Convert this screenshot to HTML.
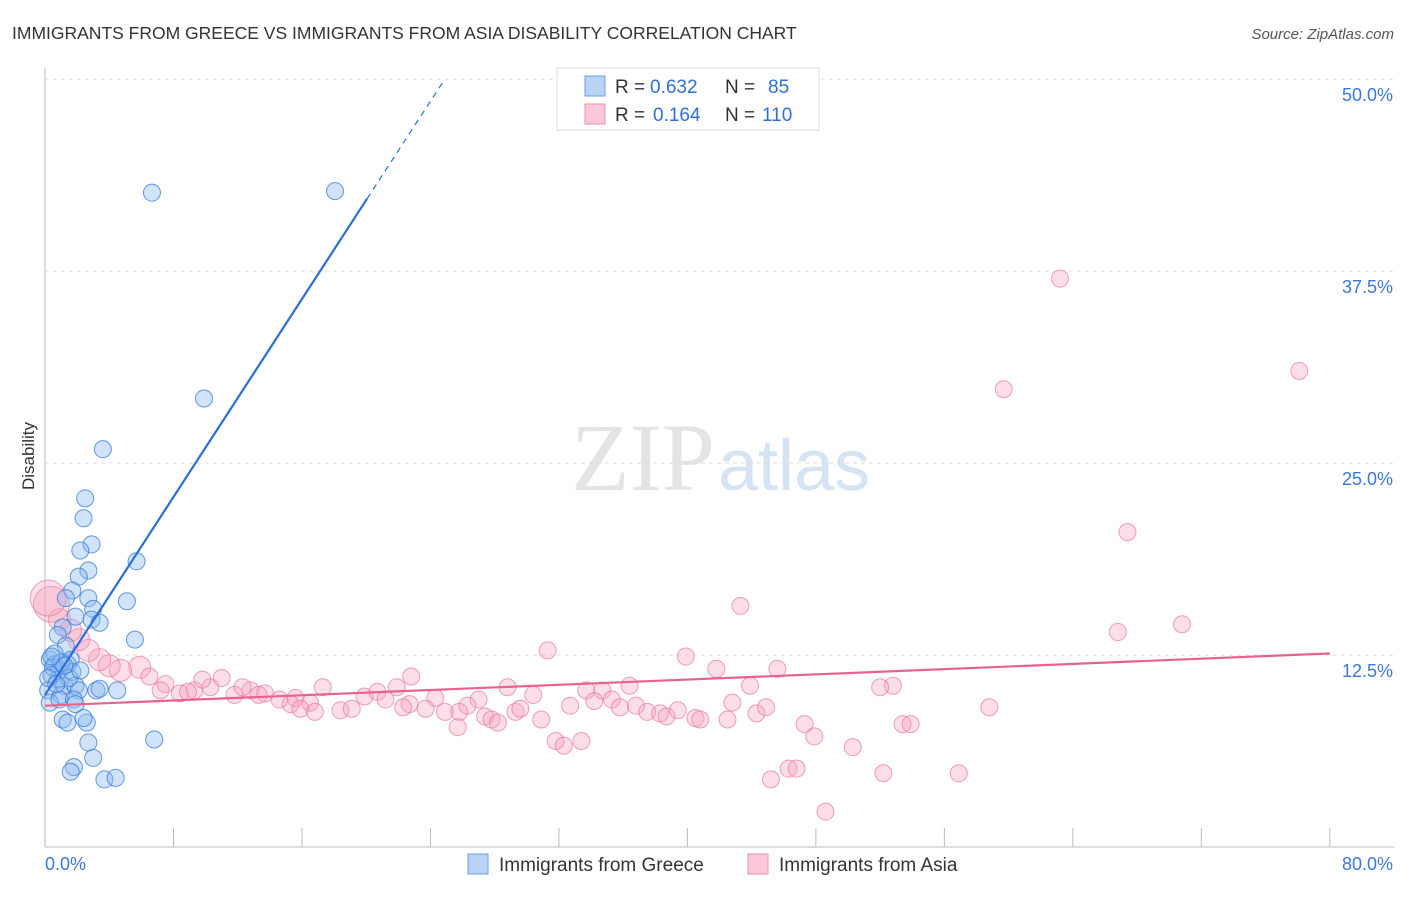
<!DOCTYPE html>
<html><head><meta charset="utf-8"><style>
body{margin:0;background:#fff;font-family:"Liberation Sans",sans-serif}
</style></head><body>
<svg id="c" width="1406" height="892" xmlns="http://www.w3.org/2000/svg">
<text x="12" y="39" font-size="17.5" fill="#333">IMMIGRANTS FROM GREECE VS IMMIGRANTS FROM ASIA DISABILITY CORRELATION CHART</text>
<text x="1394" y="39" font-size="15" fill="#555" font-style="italic" text-anchor="end">Source: ZipAtlas.com</text>
<text x="715" y="490" font-size="96" fill="#e4e4e4" font-family="Liberation Serif" text-anchor="end">ZIP</text>
<text x="718" y="490" font-size="72" fill="#d6e3f3">atlas</text>
<text transform="translate(34,456) rotate(-90)" font-size="17" fill="#333" text-anchor="middle">Disability</text>
<g id="grid"></g><g id="pts"></g><g id="lines"></g>
<g>
<rect x="557" y="68" width="262" height="62" fill="#fff" stroke="#ddd"/>
<rect x="585" y="76" width="20" height="20" fill="#b8d3f5" stroke="#6a9fe0"/>
<rect x="585" y="104" width="20" height="20" fill="#fac8d8" stroke="#ee8fae"/>
<g font-size="19" fill="#333">
<text x="615" y="93">R =</text>
<text x="650" y="93" fill="#2f6fd6">0.632</text>
<text x="725" y="93">N =</text>
<text x="768" y="93" fill="#2f6fd6">85</text>
<text x="615" y="121">R =</text>
<text x="653" y="121" fill="#2f6fd6">0.164</text>
<text x="725" y="121">N =</text>
<text x="762" y="121" fill="#2f6fd6">110</text>
</g>
</g>
<g>
<rect x="468" y="854" width="20" height="20" fill="#b8d3f5" stroke="#6a9fe0"/>
<text x="499" y="871" font-size="19" fill="#333">Immigrants from Greece</text>
<rect x="748" y="854" width="20" height="20" fill="#fac8d8" stroke="#ee8fae"/>
<text x="779" y="871" font-size="19" fill="#333">Immigrants from Asia</text>
</g>
</svg>
<script>
const yTicks=[12.5,25,37.5,50];
const yTickLabels=["12.5%","25.0%","37.5%","50.0%"];
const xTicks=[8,16,24,32,40,48,56,64,72,80];
const greeceX=[6.66,18.06,9.9,3.6,2.5,2.4,2.9,2.2,5.7,2.7,2.1,1.7,1.3,2.7,5.1,3.0,1.9,2.9,3.4,1.1,0.8,5.6,1.3,0.3,0.6,0.9,0.4,0.8,1.2,1.6,1.7,0.2,1.0,1.9,1.4,0.6,0.3,0.9,2.1,1.8,3.2,4.5,3.4,1.9,1.1,1.4,2.6,2.4,2.7,6.8,3.0,1.8,1.6,3.7,4.4,0.5,1.0,1.5,0.2,0.7,1.2,0.4,2.2];
const greeceY=[42.6,42.7,29.2,25.9,22.7,21.4,19.7,19.3,18.6,18.0,17.6,16.7,16.2,16.2,16.0,15.5,15.0,14.8,14.6,14.3,13.8,13.5,13.1,12.2,11.9,11.5,11.2,10.9,10.5,12.2,11.4,10.2,9.9,10.5,11.9,12.6,9.4,9.6,10.2,9.6,10.2,10.2,10.3,9.3,8.3,8.1,8.1,8.4,6.8,7.0,5.8,5.2,4.9,4.4,4.5,11.7,12.0,11.0,11.0,10.6,11.8,12.4,11.5];
const asiaX=[63.2,78.1,59.7,67.4,43.3,70.8,66.8,31.3,39.9,41.8,45.6,22.8,36.4,43.9,52.8,52,28.8,30.4,33.7,34.7,21.9,17.3,19.9,20.7,21.2,24.3,27.0,22.7,22.3,23.7,24.9,25.8,26.3,27.4,27.8,28.2,29.3,29.6,30.9,32.7,34.2,35.3,35.8,36.8,37.5,38.3,38.7,39.4,40.5,40.8,42.5,42.8,44.3,44.9,47.3,47.9,50.3,53.4,53.9,58.8,31.8,32.3,33.4,25.7,45.2,46.3,46.8,52.2,56.9,48.6,5.9,6.5,7.5,8.4,9.3,10.3,11.0,11.8,12.8,13.7,14.6,15.6,16.5,7.2,8.9,9.8,12.3,13.3,15.3,15.9,16.8,18.4,19.1,4.7,4.0,3.4,2.7,2.1,1.6,0.9,0.4,0.2];
const asiaY=[37.0,31.0,29.8,20.5,15.7,14.5,14.0,12.8,12.4,11.6,11.6,11.1,10.5,10.5,10.5,10.4,10.4,9.9,10.2,10.2,10.4,10.4,9.8,10.1,9.6,9.7,9.6,9.3,9.1,9.0,8.8,8.8,9.2,8.5,8.3,8.1,8.8,9.0,8.3,9.2,9.5,9.6,9.1,9.2,8.8,8.7,8.5,8.9,8.4,8.3,8.3,9.4,8.7,9.1,8.0,7.2,6.5,8.0,8.0,9.1,6.9,6.6,6.9,7.8,4.4,5.1,5.1,4.8,4.8,2.3,11.7,11.1,10.6,10.0,10.2,10.4,11.0,9.9,10.2,10.0,9.6,9.7,9.4,10.2,10.1,10.9,10.4,9.9,9.3,9.0,8.8,8.9,9.0,11.5,11.8,12.2,12.8,13.5,14.1,14.8,15.8,16.2];
const greeceTrend=[[0,9.9],[20.05,42.2],[24.9,50]];
const asiaTrend=[[0,9.2],[80,12.6]];
const X=v=>45+v*16.06, Y=v=>847-v*15.36;
const NS="http://www.w3.org/2000/svg";
function mk(parent,tag,attrs){const e=document.createElementNS(NS,tag);for(const k in attrs)e.setAttribute(k,attrs[k]);document.getElementById(parent).appendChild(e);return e;}
let a=mk('grid','line',{x1:45,y1:68,x2:45,y2:847,stroke:'#bbb'});


a=mk('grid','line',{x1:45,y1:847,x2:1394,y2:847,stroke:'#bbb'});


yTicks.forEach((t,i)=>{
 const g=mk('grid','line',{x1:45,y1:Y(t),x2:1394,y2:Y(t),stroke:'#ddd','stroke-dasharray':'4,4'});
 
 
 const tx=mk('grid','text',{x:1393,y:Y(t)+22,'font-size':18,fill:'#3b78d8','text-anchor':'end'});
 tx.textContent=yTickLabels[i];
 
 
});
xTicks.forEach(t=>{const l=mk('grid','line',{x1:X(t),y1:828,x2:X(t),y2:847,stroke:'#bbb'});
 
 });
let t0=mk('grid','text',{x:45,y:870,'font-size':18,fill:'#3b78d8'});t0.textContent='0.0%';


let t1=mk('grid','text',{x:1393,y:870,'font-size':18,fill:'#3b78d8','text-anchor':'end'});t1.textContent='80.0%';


asiaX.forEach((x,i)=>{const big=i>=asiaX.length-2;const c=mk('pts','circle',{cx:X(x),cy:Y(asiaY[i]),r:big?18:(x<6?11:8.5),fill:'rgba(246,160,190,0.35)',stroke:'rgba(235,120,160,0.7)'});
 
 });
greeceX.forEach((x,i)=>{const c=mk('pts','circle',{cx:X(x),cy:Y(greeceY[i]),r:8.5,fill:'rgba(140,185,240,0.4)',stroke:'rgba(50,120,220,0.75)'});
 
 });
let l=mk('lines','line',{x1:X(greeceTrend[0][0]),y1:Y(greeceTrend[0][1]),x2:X(greeceTrend[1][0]),y2:Y(greeceTrend[1][1]),stroke:'#2a6fd8','stroke-width':2.2});


l=mk('lines','line',{x1:X(greeceTrend[1][0]),y1:Y(greeceTrend[1][1]),x2:X(greeceTrend[2][0]),y2:Y(greeceTrend[2][1]),stroke:'#2a6fd8','stroke-width':1.2,'stroke-dasharray':'6,5'});


l=mk('lines','line',{x1:X(asiaTrend[0][0]),y1:Y(asiaTrend[0][1]),x2:X(asiaTrend[1][0]),y2:Y(asiaTrend[1][1]),stroke:'#e8628f','stroke-width':2.2});


</script>
</body></html>
